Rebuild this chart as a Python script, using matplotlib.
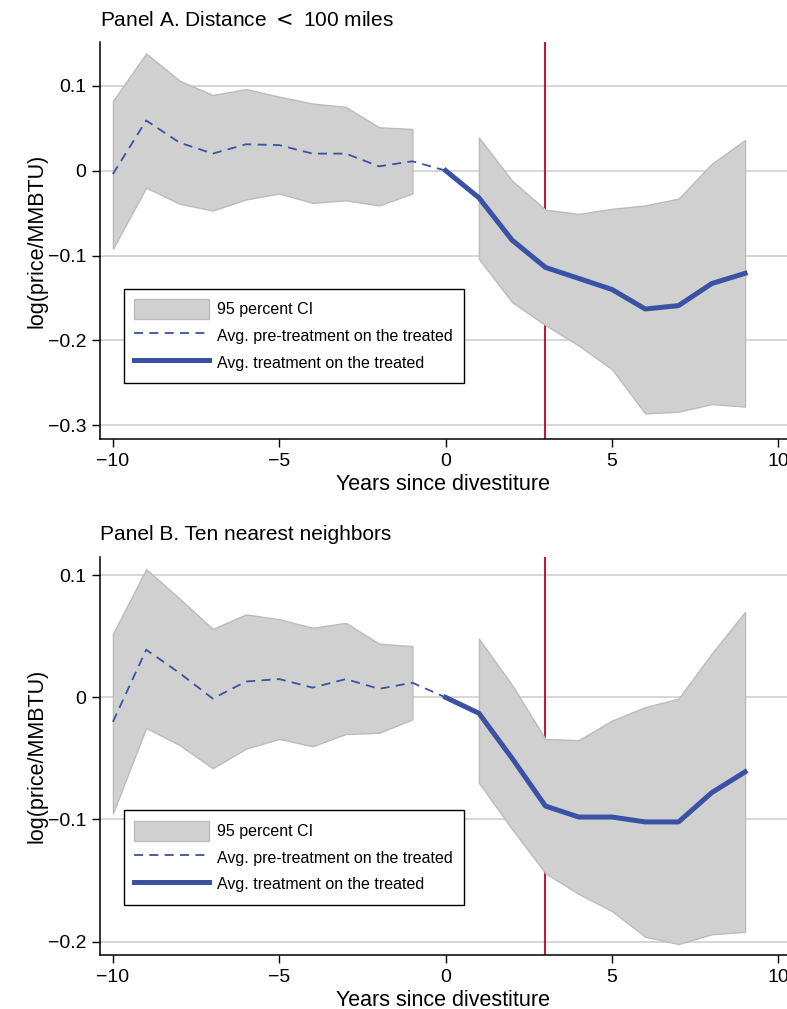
import numpy as np
import matplotlib
matplotlib.use("Agg")
import matplotlib.pyplot as plt
from matplotlib.patches import Patch
from matplotlib.lines import Line2D

plt.rcParams['font.family'] = ['Liberation Sans', 'DejaVu Sans']

# event time
pre_years = [-10, -9, -8, -7, -6, -5, -4, -3, -2, -1, 0]
post_years = [0, 1, 2, 3, 4, 5, 6, 7, 8, 9]
ci_pre_years = [-10, -9, -8, -7, -6, -5, -4, -3, -2, -1]
ci_post_years = [1, 2, 3, 4, 5, 6, 7, 8, 9]

# Panel A: distance < 100 miles
a_pre = [-0.004, 0.059, 0.033, 0.020, 0.031, 0.030, 0.020, 0.020, 0.005, 0.011, 0.0]
a_post = [0.0, -0.032, -0.082, -0.114, -0.127, -0.140, -0.163, -0.159, -0.133, -0.121]
a_pre_hi = [0.082, 0.138, 0.106, 0.089, 0.096, 0.087, 0.079, 0.075, 0.051, 0.049]
a_pre_lo = [-0.092, -0.020, -0.039, -0.047, -0.034, -0.027, -0.038, -0.035, -0.041, -0.027]
a_post_hi = [0.039, -0.012, -0.046, -0.051, -0.045, -0.041, -0.033, 0.008, 0.036]
a_post_lo = [-0.104, -0.155, -0.182, -0.206, -0.234, -0.286, -0.284, -0.275, -0.278]

# Panel B: ten nearest neighbors
b_pre = [-0.020, 0.039, 0.020, -0.001, 0.013, 0.015, 0.008, 0.015, 0.007, 0.012, 0.0]
b_post = [0.0, -0.013, -0.050, -0.089, -0.098, -0.098, -0.102, -0.102, -0.078, -0.061]
b_pre_hi = [0.052, 0.105, 0.081, 0.056, 0.068, 0.064, 0.057, 0.061, 0.044, 0.042]
b_pre_lo = [-0.095, -0.025, -0.039, -0.058, -0.042, -0.034, -0.040, -0.030, -0.029, -0.018]
b_post_hi = [0.048, 0.010, -0.034, -0.035, -0.019, -0.008, -0.001, 0.036, 0.070]
b_post_lo = [-0.070, -0.108, -0.144, -0.161, -0.175, -0.196, -0.202, -0.194, -0.192]

blue = "#3a52a3"
fill = "#d0d0d0"
edge = "#bcbcbc"
red = "#c8102e"

fig = plt.figure(figsize=(7.87, 10.09), dpi=100)
ax_a = fig.add_axes([0.127, 0.565, 0.873, 0.393])
ax_b = fig.add_axes([0.127, 0.0535, 0.873, 0.3945])


def draw_panel(ax, title, pre, post, pre_hi, pre_lo, post_hi, post_lo, yticks, ylim, legend_y):
    # red marker line sits behind the confidence bands
    ax.axvline(3, color=red, lw=1.4, zorder=1.5)
    ax.fill_between(ci_pre_years, pre_lo, pre_hi, facecolor=fill, edgecolor=edge, lw=1, zorder=2)
    ax.fill_between(ci_post_years, post_lo, post_hi, facecolor=fill, edgecolor=edge, lw=1, zorder=2)
    ax.plot(pre_years, pre, color=blue, lw=1.3, ls=(0, (5, 3.5)), zorder=3)
    ax.plot(post_years, post, color=blue, lw=3.6, solid_joinstyle='round', zorder=4)

    ax.set_xlim(-10.39, 10.26)
    ax.set_ylim(*ylim)
    ax.set_xticks([-10, -5, 0, 5, 10])
    ax.set_xticklabels(["\u221210", "\u22125", "0", "5", "10"])
    ax.set_yticks(yticks)
    ax.set_yticklabels([("\u2212" + f"{abs(t):g}") if t < 0 else f"{t:g}" for t in yticks])
    ax.yaxis.grid(True, color="#cccccc", lw=1.1, zorder=0)
    ax.set_axisbelow(True)
    for s in ["top", "right"]:
        ax.spines[s].set_visible(False)
    ax.spines["left"].set_linewidth(1.1)
    ax.spines["bottom"].set_linewidth(1.1)
    ax.tick_params(axis="both", direction="out", length=6, width=1.0, labelsize=14, pad=4)

    ax.set_xlabel("Years since divestiture", fontsize=15.5, labelpad=3)
    ax.set_ylabel("log(price/MMBTU)", fontsize=15.5, labelpad=0)
    ax.set_title(title, loc="left", fontsize=15, pad=12)

    handles = [
        Patch(facecolor=fill, edgecolor=edge, lw=1),
        Line2D([], [], color=blue, lw=1.3, ls=(0, (5, 3.5))),
        Line2D([], [], color=blue, lw=3.6),
    ]
    labels = ["95 percent CI", "Avg. pre-treatment on the treated", "Avg. treatment on the treated"]
    leg = ax.legend(handles, labels, loc="lower left", bbox_to_anchor=(0.035, legend_y),
                    frameon=True, fancybox=False, edgecolor="black", framealpha=1,
                    prop={"size": 11.5},
                    handlelength=4.7, handleheight=1.6, handletextpad=0.5,
                    labelspacing=0.38, borderpad=0.65, borderaxespad=0)
    leg.get_frame().set_linewidth(1.0)
    leg.set_zorder(6)


draw_panel(ax_a, "Panel A. Distance $<$ 100 miles", a_pre, a_post, a_pre_hi, a_pre_lo,
           a_post_hi, a_post_lo, [-0.3, -0.2, -0.1, 0, 0.1], (-0.316, 0.151), 0.141)
draw_panel(ax_b, "Panel B. Ten nearest neighbors", b_pre, b_post, b_pre_hi, b_pre_lo,
           b_post_hi, b_post_lo, [-0.2, -0.1, 0, 0.1], (-0.211, 0.115), 0.126)

fig.savefig("out.png", dpi=100)
